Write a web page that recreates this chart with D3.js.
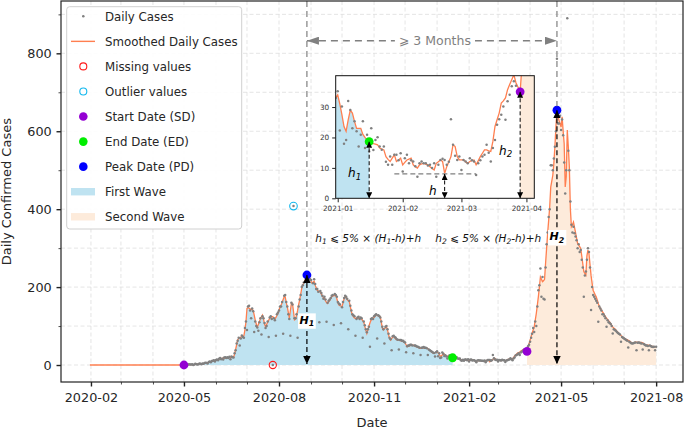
<!DOCTYPE html>
<html><head><meta charset="utf-8">
<script src="https://cdn.jsdelivr.net/npm/d3@7/dist/d3.min.js"></script>
<style>
html,body{margin:0;padding:0;background:#fff;}
svg{display:block;font-family:"DejaVu Sans",sans-serif;}
</style></head><body>
<svg id="chart" width="685" height="429"></svg>
<script>
// ---------------- DATA ----------------
const leadInDates = ["2020-01-31", "2020-05-01"];
const leadInValues = [0, 0];
const seriesStart = "2020-05-01"; // one value per day from here to 2021-08-01
const smoothed = [
0,0,0,0,1,1,1, 1,1,1,1,2,2,2, 2,3,3,3,3,3,4, 5,6,6,7,8,8,9, 10,11,11,12,13,14,15,
17,16,17,18,17,18,19, 18,19,20,19,20,21,20, 28,40,52,65,68,70,72, 73,74,75,90,110,145,147,
146,144,143,142,140,128,115, 105,98,104,112,118,124,128, 118,105,98,104,110,115,120,
122,124,124,120,118,122,127, 132,140,148,154,160,168,175, 175,160,150,135,120,140,158,
158,138,116,118,128,140,155, 167,182,197,205,210,215,225, 231,229,226,222,215,210,213,
215,205,198,192,190,188,187, 182,176,173,171,165,160,158, 162,165,170,175,177,178,178,
178,170,160,154,152,151,150, 160,170,175,172,168,165,163, 150,138,128,124,121,120,120,
121,120,120,120,118,114,111, 100,90,81,90,100,108,115, 117,120,122,125,128,128,126,
124,124,110,95,90,93,96, 98,90,78,68,64,68,72, 73,70,67,65,64,64,63,
62,61,60,60,57,52,47, 48,49,50,51,51,51,49, 48,47,46,45,43,43,43,
44,44,43,43,43,42,40, 37,35,33,31,30,31,33, 34,31,27.5,23.6,22,25.8,29,
28,25.3,23,23,23,21,20, 19.2,18.6,18.3,18,17.8,17.6,16.5, 16.2,15.9,13.7,12.8,12.1,13.2,14.3,
12.1,12.6,13.2,11,11.8,12.6,12.9, 13.2,11,10.4,9.9,11,11.3,11.5, 11.2,11,10.4,9.8,9.3,11.5,12,
12.6,12.1,8.2,10.4,12,13.7,17.6, 17,13.7,12.6,12.6,12.6,12,11.5, 12.1,12.4,12.6,11,12.3,13.7,14.8,
15.9,15.9,15.6,15.4,18.7,23.6,25.8, 28,31.3,32,33,35.7,37.4,39, 40.6,38,36.5,35,45,55,64,
73,82,90,98,115,132,153, 175,200,226,220,214,216,220, 261,300,338,372,406,457,472,
487,517,560,610,654,640,628, 620,611,637,600,568,457,483, 603,560,508,400,355,360,367,
353,340,326,312,308,304,299, 280,260,240,235,231,280,295, 286,258,230,210,192,186,180,
175,167,158,150,146,141,137, 133,128,124,120,117,114,111, 106,102,98,95,93,90,87,
84,81,78,76,73,71,69, 67,66,65,63,62,60,58, 56,57,58,59,59,58,58,
58,58,58,57,55,53,51, 51,51,51,50,49,48,48, 47,47,47
];
const daily = [
0,0,1,0,1,2,1, 1,2,0,1,3,2,1, 2,4,3,2,4,3,5, 6,5,4,8,9,7,10, 11,12,9,13,14,12,16,
18,15,16,14,19,20,18, 20,18,21,15,22,20,19, 30,38,55,62,70,50,68, 76,72,70,95,112,90,150,
152,140,120,145,138,85,112, 100,96,88,110,120,78,125, 120,108,95,100,112,72,122,
125,118,0,120,115,75,130, 135,140,150,150,162,80,178, 180,162,150,130,118,75,160,
155,408,120,120,130,70,150, 168,180,200,205,212,120,228, 236,230,232,220,218,125,210,
220,208,195,195,188,110,190, 185,178,170,175,168,111,160, 165,168,172,178,180,103,182,
180,175,162,158,155,107,148, 162,172,178,175,170,92,165, 152,140,130,128,125,75,118,
122,124,118,122,120,70,112, 102,92,84,92,98,47,118, 120,118,125,128,130,68,128,
126,122,112,98,92,55,98, 100,92,80,70,66,38,74, 75,72,70,66,65,40,64,
64,62,62,60,58,33,48, 50,50,52,52,50,30,50, 50,48,47,46,44,26,44,
45,46,44,44,43,26,40, 38,36,34,32,31,22,33, 35.2,22.3,30.2,17.9,19.2,32,29,
23,25.3,22,17,20.9,25.3,16.5, 20.9,15.4,23,15.9,19.2,20.1,17, 16,17,12,11,13.7,11,14.3,
14.3,12.5,14.8,8.8,13.2,14.3,11.5, 12.5,12.1,10.5,7.1,11.5,12.1,11.5, 11.5,10.8,11,10,11.5,7.1,11,
12.6,13,12.6,11,12,26,17.6, 14,12.6,13.7,9.3,12.6,12.1,11.5, 13.2,12.5,12.1,7.7,11.5,12.5,13.7,
14.3,17.6,15,12.1,16.5,19.2,24.2, 26,27.5,30.2,25.8,31.9,34,36.8, 38.5,37,35.2,36,48,52,60,
70,80,95,85,112,100,150, 192,205,248,175,226,170,168, 250,310,340,380,400,513,513,
500,530,560,600,786,620,620, 640,603,630,590,520,440,500, 890,550,500,420,360,340,355,
338,330,320,300,310,290,295, 270,250,175,230,240,270,300, 290,250,141,200,180,175,170,
165,160,111,150,145,140,130, 130,125,120,98,115,110,108, 105,100,81,92,90,88,85,
82,80,78,60,72,70,68, 66,64,62,45,60,58,56, 55,56,57,58,38,57,58,
57,56,55,40,54,52,50, 50,49,38,50,48,47,46, 47,38,47
];
const missingDates = ["2020-07-26"];
const outlierDates = ["2020-08-15"];
const startDates = ["2020-05-01", "2021-03-29"];
const endDates = ["2021-01-16"];
const peakDates = ["2020-08-28", "2021-04-27"];
const waveStarts = ["2020-05-01", "2021-03-29"];
const waveEnds = ["2021-01-16", "2021-08-01"];
const hDate = "2021-02-21";
const hLevel = 8;
const hLineDates = ["2021-01-28", "2021-03-08"];
const xDomain = ["2020-01-03", "2021-08-27"];
const yDomain = [-43.6, 934.3];
const xMajorTicks = ["2020-02-01","2020-05-01","2020-08-01","2020-11-01","2021-02-01","2021-05-01","2021-08-01"];
const yMajorTicks = [0, 200, 400, 600, 800];
const yMinorTicks = [100, 300, 500, 700, 900];
const insetXDomain = ["2020-12-31T01:00:00Z", "2021-04-04T18:00:00Z"];
const insetYDomain = [0, 40.3];
const insetXTicks = ["2021-01-01","2021-02-01","2021-03-01","2021-04-01"];
const insetYTicks = [0, 10, 20, 30];
const legendLabels = ["Daily Cases","Smoothed Daily Cases","Missing values","Outlier values",
  "Start Date (SD)","End Date (ED)","Peak Date (PD)","First Wave","Second Wave"];
const intervalLabel = "\u2A7E 3 Months";
const formula1 = [["h"],["1",1],[" \u2A7D 5% \u00D7 (H"],["1",1],["-h)+h"]];
const formula2 = [["h"],["2",1],[" \u2A7D 5% \u00D7 (H"],["2",1],["-h)+h"]];

// ---------------- STYLE ----------------
const C = {
  line: "#ff7f50", dot: "#808080", missing: "#ff1a1a", outlier: "#12b8ee",
  sd: "#9400d3", ed: "#00ee00", pd: "#0000ff",
  wave1: "#bfe3f1", wave2: "#fdebdb", grid: "#dedede", gray: "#808080"
};
const M = {left: 61, right: 683, top: 1, bottom: 382};
const I = {left: 335.7, right: 534.3, top: 75.7, bottom: 198.3};

const P = s => new Date(s.length > 10 ? s : s + "T00:00:00Z");
const svg = d3.select("#chart");
const x = d3.scaleUtc().domain(xDomain.map(P)).range([M.left, M.right]);
const y = d3.scaleLinear().domain(yDomain).range([M.bottom, M.top]);

const start = P(seriesStart);
const rows = smoothed.map((s, i) => ({date: d3.utcDay.offset(start, i), s, v: daily[i]}));
const at = str => rows.find(r => +r.date === +P(str));
const lead = leadInDates.map((d, i) => ({date: P(d), s: leadInValues[i]}));

const defs = svg.append("defs");
function arrowMarker(id, color, len, wid) {
  defs.append("marker").attr("id", id).attr("viewBox", "0 0 10 10")
    .attr("refX", 10).attr("refY", 5).attr("markerWidth", len).attr("markerHeight", wid)
    .attr("markerUnits", "userSpaceOnUse").attr("orient", "auto-start-reverse")
    .attr("preserveAspectRatio", "none")
    .append("path").attr("d", "M0,0L10,5L0,10Z").attr("fill", color);
}
arrowMarker("ab", "#000", 8, 7.5);
arrowMarker("abs", "#000", 6, 6);
arrowMarker("ag", C.gray, 12, 8);
defs.append("clipPath").attr("id", "clipMain").append("rect")
  .attr("x", M.left).attr("y", M.top).attr("width", M.right - M.left).attr("height", M.bottom - M.top);
defs.append("clipPath").attr("id", "clipInset").append("rect")
  .attr("x", I.left).attr("y", I.top).attr("width", I.right - I.left).attr("height", I.bottom - I.top);

function rich(sel, parts, size) {
  let shifted = false;
  parts.forEach(p => {
    const t = sel.append("tspan").text(p[0]);
    if (p[1]) { t.attr("font-size", size * 0.72).attr("dy", size * 0.22); shifted = true; }
    else if (shifted) { t.attr("dy", -size * 0.22); shifted = false; }
  });
  return sel;
}

// ---------------- GRID ----------------
const grid = svg.append("g");
const months = d3.utcMonths(P("2020-02-01"), P("2021-08-02"));
grid.selectAll(".gx").data(months).join("line")
  .attr("x1", d => x(d)).attr("x2", d => x(d)).attr("y1", M.top).attr("y2", M.bottom)
  .attr("stroke", C.grid).attr("stroke-width", 0.8).attr("stroke-dasharray", "4,2.5");
grid.selectAll(".gy").data(yMajorTicks.concat(yMinorTicks)).join("line")
  .attr("x1", M.left).attr("x2", M.right).attr("y1", d => y(d)).attr("y2", d => y(d))
  .attr("stroke", C.grid).attr("stroke-width", 0.8).attr("stroke-dasharray", "4,2.5");

// ---------------- MAIN SERIES ----------------
function drawSeries(g, xs, ys) {
  const area = d3.area().x(d => xs(d.date)).y0(ys(0)).y1(d => ys(d.s));
  [0, 1].forEach(k => {
    const a = P(waveStarts[k]), b = P(waveEnds[k]);
    g.append("path").datum(rows.filter(r => r.date >= a && r.date <= b))
      .attr("d", area).attr("fill", k ? C.wave2 : C.wave1);
  });
  const line = d3.line().x(d => xs(d.date)).y(d => ys(d.s));
  g.append("path").datum(lead).attr("d", line).attr("fill", "none").attr("stroke", C.line).attr("stroke-width", 1.3);
  g.append("path").datum(rows).attr("d", line).attr("fill", "none").attr("stroke", C.line).attr("stroke-width", 1.3);
  g.selectAll(".dot").data(rows).join("circle")
    .attr("cx", d => xs(d.date)).attr("cy", d => ys(d.v)).attr("r", 1.25).attr("fill", C.dot);
}
const main = svg.append("g").attr("clip-path", "url(#clipMain)");
drawSeries(main, x, y);

main.selectAll(".miss").data(missingDates).join("circle")
  .attr("cx", d => x(P(d))).attr("cy", d => y(at(d).v)).attr("r", 3.6)
  .attr("fill", "none").attr("stroke", C.missing).attr("stroke-width", 1.1);
main.selectAll(".outl").data(outlierDates).join("circle")
  .attr("cx", d => x(P(d))).attr("cy", d => y(at(d).v)).attr("r", 3.8)
  .attr("fill", "none").attr("stroke", C.outlier).attr("stroke-width", 1.1);

function keyDots(g, xs, ys, dates, color) {
  g.selectAll(null).data(dates).join("circle")
    .attr("cx", d => xs(P(d))).attr("cy", d => ys(at(d).s)).attr("r", 4.4).attr("fill", color);
}
keyDots(main, x, y, startDates, C.sd);
keyDots(main, x, y, endDates, C.ed);
keyDots(main, x, y, peakDates, C.pd);

// gray dashed guides and interval arrow
peakDates.forEach(d => {
  main.append("line").attr("x1", x(P(d))).attr("x2", x(P(d))).attr("y1", M.top).attr("y2", y(at(d).s) - 4)
    .attr("stroke", C.gray).attr("stroke-width", 1.2).attr("stroke-dasharray", "6,4");
});
const ay = 40.7;
const xa = x(P(peakDates[0])), xb = x(P(peakDates[1]));
main.append("line").attr("x1", xa).attr("x2", xb).attr("y1", ay).attr("y2", ay)
  .attr("stroke", C.gray).attr("stroke-width", 1.5).attr("stroke-dasharray", "7,5")
  .attr("marker-start", "url(#ag)").attr("marker-end", "url(#ag)");
const it = main.append("text").attr("x", (xa + xb) / 2 + 3).attr("y", ay).attr("dy", "0.35em")
  .attr("text-anchor", "middle").attr("font-size", 12.5).attr("fill", C.gray).text(intervalLabel);
const ib = it.node().getBBox();
main.insert("rect", "text").attr("x", ib.x - 4).attr("y", ib.y).attr("width", ib.width + 8).attr("height", ib.height).attr("fill", "#fff");

// H arrows
peakDates.forEach((d, k) => {
  const px = x(P(d));
  main.append("line").attr("x1", px).attr("x2", px).attr("y1", y(at(d).s)).attr("y2", y(0) - 1)
    .attr("stroke", "#000").attr("stroke-width", 1.2).attr("stroke-dasharray", "5,3")
    .attr("marker-start", "url(#ab)").attr("marker-end", "url(#ab)");
  const ly = (y(at(d).s) + y(0)) / 2 + (k ? -1 : 0);
  const t = main.append("text").attr("x", px).attr("y", ly).attr("dy", "0.35em").attr("text-anchor", "middle")
    .attr("font-size", 11).attr("font-weight", "bold").attr("font-style", "italic");
  rich(t, [["H"], [String(k + 1), 1]], 11);
  const bb = t.node().getBBox();
  main.insert("rect", () => t.node()).attr("x", bb.x - 1.5).attr("y", bb.y - 0.5)
    .attr("width", bb.width + 3).attr("height", bb.height + 1).attr("fill", "#fff");
});

// ---------------- INSET ----------------
const x2 = d3.scaleUtc().domain(insetXDomain.map(P)).range([I.left, I.right]);
const y2 = d3.scaleLinear().domain(insetYDomain).range([I.bottom, I.top]);
const inset = svg.append("g");
inset.append("rect").attr("x", I.left).attr("y", I.top).attr("width", I.right - I.left)
  .attr("height", I.bottom - I.top).attr("fill", "#fff");
const ic = inset.append("g").attr("clip-path", "url(#clipInset)");
drawSeries(ic, x2, y2);
ic.append("line").attr("x1", x2(P(hLineDates[0]))).attr("x2", x2(P(hLineDates[1])))
  .attr("y1", y2(hLevel)).attr("y2", y2(hLevel))
  .attr("stroke", C.gray).attr("stroke-width", 1.2).attr("stroke-dasharray", "5,3");
keyDots(ic, x2, y2, endDates, C.ed);
keyDots(ic, x2, y2, [startDates[1]], C.sd);
const hArrows = [[endDates[0], at(endDates[0]).s], [hDate, hLevel], [startDates[1], at(startDates[1]).s]];
hArrows.forEach(([d, v]) => {
  ic.append("line").attr("x1", x2(P(d))).attr("x2", x2(P(d))).attr("y1", y2(v)).attr("y2", y2(0))
    .attr("stroke", "#000").attr("stroke-width", 1).attr("stroke-dasharray", "4,2.5")
    .attr("marker-start", "url(#abs)").attr("marker-end", "url(#abs)");
});
const hLabels = [[[["h"], ["1", 1]], endDates[0], at(endDates[0]).s], [[["h"]], hDate, hLevel], [[["h"], ["2", 1]], startDates[1], at(startDates[1]).s]];
hLabels.forEach(([parts, d, v], k) => {
  const t = inset.append("text").attr("x", x2(P(d)) - 8).attr("y", y2(v * (k === 1 ? 0.3 : 0.45)))
    .attr("dy", "0.35em").attr("text-anchor", "end").attr("font-size", 12).attr("font-style", "italic");
  rich(t, parts, 12);
});
inset.append("rect").attr("x", I.left).attr("y", I.top).attr("width", I.right - I.left)
  .attr("height", I.bottom - I.top).attr("fill", "none").attr("stroke", "#111").attr("stroke-width", 1);
const iax = inset.append("g").attr("transform", `translate(0,${I.bottom})`)
  .call(d3.axisBottom(x2).tickValues(insetXTicks.map(P)).tickFormat(d3.utcFormat("%Y-%m")).tickSize(4).tickPadding(3.5));
const iay = inset.append("g").attr("transform", `translate(${I.left},0)`)
  .call(d3.axisLeft(y2).tickValues(insetYTicks).tickSize(3.5).tickPadding(3));
[iax, iay].forEach(g => {
  g.select(".domain").remove();
  g.selectAll("text").attr("font-size", 7.3).attr("fill", "#333").attr("font-family", "DejaVu Sans");
  g.selectAll("line").attr("stroke", "#222").attr("stroke-width", 1);
});
[formula1, formula2].forEach((f, k) => {
  const t = svg.append("text").attr("x", k ? 488.3 : 368.3).attr("y", 241.7).attr("text-anchor", "middle")
    .attr("font-size", 10.5).attr("font-style", "italic").attr("fill", "#111");
  rich(t, f, 10.5);
});

// ---------------- AXES ----------------
svg.append("rect").attr("x", M.left).attr("y", M.top).attr("width", M.right - M.left)
  .attr("height", M.bottom - M.top).attr("fill", "none").attr("stroke", "#222").attr("stroke-width", 1.2);
const gx = svg.append("g").attr("transform", `translate(0,${M.bottom})`)
  .call(d3.axisBottom(x).tickValues(xMajorTicks.map(P)).tickFormat(d3.utcFormat("%Y-%m")).tickSize(4.5).tickPadding(6.5));
const gxm = svg.append("g").attr("transform", `translate(0,${M.bottom})`)
  .call(d3.axisBottom(x).tickValues(months.filter(m => !xMajorTicks.includes(d3.utcFormat("%Y-%m-%d")(m)))).tickSize(2.5).tickFormat(""));
const gy = svg.append("g").attr("transform", `translate(${M.left},0)`)
  .call(d3.axisLeft(y).tickValues(yMajorTicks).tickSize(4.5).tickPadding(4.8));
const gym = svg.append("g").attr("transform", `translate(${M.left},0)`)
  .call(d3.axisLeft(y).tickValues(yMinorTicks).tickSize(2.5).tickFormat(""));
[gx, gy].forEach(g => {
  g.select(".domain").remove();
  g.selectAll("text").attr("font-size", 12.8).attr("fill", "#262626").attr("font-family", "DejaVu Sans");
  g.selectAll("line").attr("stroke", "#222").attr("stroke-width", 1.4);
});
[gxm, gym].forEach(g => {
  g.select(".domain").remove();
  g.selectAll("line").attr("stroke", "#222").attr("stroke-width", 0.8);
});
svg.append("text").attr("x", (M.left + M.right) / 2).attr("y", 427).attr("text-anchor", "middle")
  .attr("font-size", 13).attr("fill", "#262626").text("Date");
svg.append("text").attr("transform", `translate(11,191.7) rotate(-90)`).attr("text-anchor", "middle")
  .attr("font-size", 13).attr("fill", "#262626").text("Daily Confirmed Cases");

// ---------------- LEGEND ----------------
const lg = svg.append("g");
lg.append("rect").attr("x", 66.7).attr("y", 6.7).attr("width", 175).attr("height", 222.3).attr("rx", 3)
  .attr("fill", "#fff").attr("fill-opacity", 0.9).attr("stroke", "#d0d0d0").attr("stroke-width", 1);
legendLabels.forEach((lab, i) => {
  const cy = 16.3 + i * 25.06, mx = 83.3;
  if (i === 0) lg.append("circle").attr("cx", mx).attr("cy", cy).attr("r", 1.3).attr("fill", C.dot);
  if (i === 1) lg.append("line").attr("x1", 71).attr("x2", 95).attr("y1", cy).attr("y2", cy).attr("stroke", C.line).attr("stroke-width", 1.4);
  if (i === 2 || i === 3) lg.append("circle").attr("cx", mx).attr("cy", cy).attr("r", 3.5).attr("fill", "none")
    .attr("stroke", i === 2 ? C.missing : C.outlier).attr("stroke-width", 1.1);
  if (i >= 4 && i <= 6) lg.append("circle").attr("cx", mx).attr("cy", cy).attr("r", 4.3).attr("fill", [C.sd, C.ed, C.pd][i - 4]);
  if (i >= 7) lg.append("rect").attr("x", 71).attr("y", cy - 3.7).attr("width", 24).attr("height", 7.4).attr("fill", i === 7 ? C.wave1 : C.wave2);
  lg.append("text").attr("x", 105).attr("y", cy).attr("dy", "0.36em").attr("font-size", 11.8).attr("fill", "#262626").text(lab);
});
</script></body></html>
